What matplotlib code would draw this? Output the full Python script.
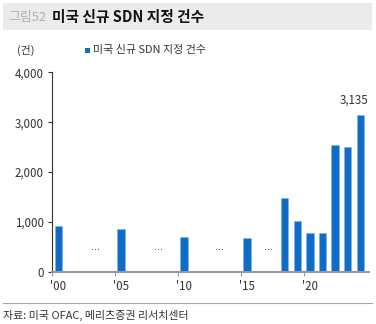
import matplotlib
matplotlib.use("Agg")
import matplotlib.pyplot as plt
from matplotlib.patches import Rectangle
from matplotlib.lines import Line2D

plt.rcParams['font.family'] = ['Noto Sans CJK KR', 'DejaVu Sans']

years = [2000, 2005, 2010, 2015, 2018, 2019, 2020, 2021, 2022, 2023, 2024]
counts = [918, 857, 690, 677, 1480, 1018, 777, 771, 2544, 2504, 3135]
gap_marks = [2003, 2008, 2012.8, 2016.7]
tick_years = [2000, 2005, 2010, 2015, 2020]
tick_labels = ["'00", "'05", "'10", "'15", "'20"]
yticks = [0, 1000, 2000, 3000, 4000]

bar_color = '#0f6cc7'
fig = plt.figure(figsize=(3.76, 3.24), dpi=100)
ax = fig.add_axes([0.138, 0.161, 0.843, 0.616])

ax.bar(years, counts, width=0.58, color=bar_color, edgecolor='#7fb2e6', linewidth=0.4)
for g in gap_marks:
    ax.text(g, 435, '···', ha='center', va='center', fontsize=7, color='#444444',
            family=['DejaVu Sans'])

ax.annotate(f'{counts[-1]:,}', xy=(years[-1], counts[-1]), xytext=(-6, 9),
            textcoords='offset pixels', ha='center', va='bottom', fontsize=8.3,
            color='#333333')

ax.set_xlim(1999.52, 2024.68)
ax.set_ylim(0, 4000)
ax.set_yticks(yticks)
ax.set_yticklabels([f'{v:,}' for v in yticks], fontsize=8.3, color='#333333')
ax.set_xticks(tick_years)
ax.set_xticklabels(tick_labels, fontsize=8.3, color='#333333')
ax.tick_params(axis='x', length=0, pad=6)
ax.set_xticks([y - 0.5 for y in tick_years], minor=True)
ax.tick_params(axis='x', which='minor', length=3, color='#999999', width=0.8, direction='out')
ax.tick_params(axis='y', length=3, color='#333333', width=0.8, pad=3)

for s in ['top', 'right']:
    ax.spines[s].set_visible(False)
ax.spines['left'].set_color('#333333')
ax.spines['left'].set_linewidth(0.8)
ax.spines['bottom'].set_color('#999999')
ax.spines['bottom'].set_linewidth(1.5)

# title band
fig.patches.append(Rectangle((3/376, 1 - 30/324), 369/376, 27/324, transform=fig.transFigure,
                             facecolor='#ebebeb', edgecolor='none', zorder=0))
fig.text(8/376, 1 - 17/324, '그림52', fontsize=9.3, color='#b0b0b0', va='center', ha='left')
fig.text(52/376, 1 - 17/324, '미국 신규 SDN 지정 건수', fontsize=10.6, fontweight='bold',
         color='#111111', va='center', ha='left')

# unit and legend
fig.text(17/376, 1 - 50/324, '(건)', fontsize=7.8, color='#333333', va='center', ha='left')
fig.patches.append(Rectangle((85/376, 1 - 53/324), 5/376, 5/324, transform=fig.transFigure,
                             facecolor=bar_color, edgecolor='none'))
fig.text(93/376, 1 - 50/324, '미국 신규 SDN 지정 건수', fontsize=7.9, color='#333333',
         va='center', ha='left')

# source
fig.lines.append(Line2D([3/376, 372/376], [1 - 303/324, 1 - 303/324], transform=fig.transFigure,
                        color='#aaaaaa', linewidth=0.8))
fig.text(3/376, 1 - 315/324, '자료: 미국 OFAC, 메리츠증권 리서치센터', fontsize=7.9,
         color='#333333', va='center', ha='left')

fig.savefig('out.png', dpi=100)
